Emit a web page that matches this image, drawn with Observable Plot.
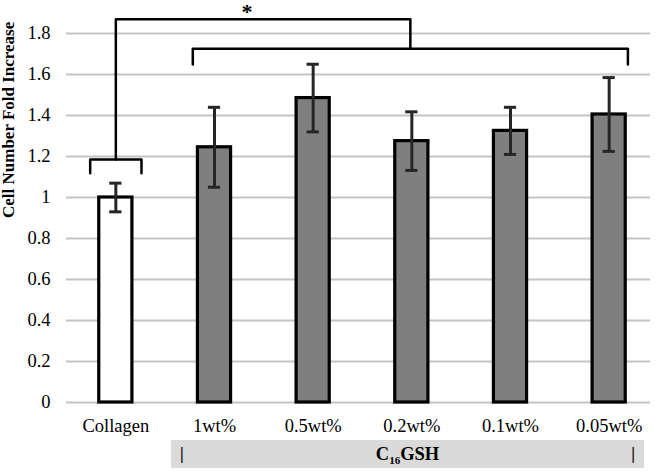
<!DOCTYPE html>
<html>
<head>
<meta charset="utf-8">
<script src="https://cdn.jsdelivr.net/npm/d3@7"></script>
<script src="https://cdn.jsdelivr.net/npm/@observablehq/plot@0.6"></script>
<style>
  body { margin: 0; background: #fff; font-family: "Liberation Serif", serif; }
  svg { display: block; }
  #group { position: relative; width: 660px; height: 34px; }
  #groupbox { position: absolute; left: 171px; top: 2px; width: 473px; height: 28px; background: #dadada;
    font-family: "Liberation Serif", serif; font-weight: bold; font-size: 18.5px; color: #000; }
  #groupbox .t { position: absolute; left: 0; right: 0; top: 3px; text-align: center; line-height: 22px; color: #000; }
  #groupbox .l { position: absolute; left: 9px; top: 3px; font-weight: bold; line-height: 22px; color: #000; font-size: 17px; }
  #groupbox .r { position: absolute; right: 9px; top: 3px; font-weight: bold; line-height: 22px; color: #000; font-size: 17px; }
</style>
</head>
<body>
<div id="chart"></div>
<script>
const categories = ["Collagen", "1wt%", "0.5wt%", "0.2wt%", "0.1wt%", "0.05wt%"];
const means = [1.0, 1.245, 1.485, 1.275, 1.325, 1.405];
const errors = [0.07, 0.195, 0.165, 0.143, 0.115, 0.18];
const barFills = ["#ffffff", "#7f7f7f", "#7f7f7f", "#7f7f7f", "#7f7f7f", "#7f7f7f"];
const yTicks = [0, 0.2, 0.4, 0.6, 0.8, 1.0, 1.2, 1.4, 1.6, 1.8];
const yLabel = "Cell Number Fold Increase";
const groupLabel = ["C", "16", "GSH"];

// significance brackets (x in category index units, y in data units)
const bracketCollagen = [[-0.26, 1.118], [-0.26, 1.185], [0.26, 1.185], [0.26, 1.118]];
const bracketGroup = [[0.78, 1.649], [0.78, 1.726], [5.19, 1.726], [5.19, 1.649]];
const bracketLink = [[0, 1.185], [0, 1.87], [2.985, 1.87], [2.985, 1.726]];
const star = [{x: 1.33, y: 1.945, text: "*"}];

const data = categories.map((c, i) => ({i, c, mean: means[i], err: errors[i], fill: barFills[i]}));
const hw = 0.168, cap = 0.062;

const plot = Plot.plot({
  width: 660,
  height: 438,
  marginLeft: 66,
  marginRight: 2,
  marginTop: 33,
  marginBottom: 36,
  style: {fontFamily: "Liberation Serif, serif", fontSize: "18.5px", color: "#000", background: "#fff"},
  x: {domain: [-0.5, 5.5]},
  y: {domain: [0, 1.8]},
  marks: [
    Plot.ruleY(yTicks, {x1: () => -0.5, x2: () => 5.42, stroke: "#c4c4c4", strokeWidth: 2}),
    Plot.axisY(yTicks, {tickSize: 0, tickPadding: 16, label: null, fontSize: 18.5, tickFormat: d => String(d)}),
    Plot.axisX(d3.range(categories.length), {tickSize: 0, tickPadding: 16, label: null, tickFormat: i => categories[i], fontSize: 18.5}),
    Plot.rect(data, {x1: d => d.i - hw, x2: d => d.i + hw, y1: () => 0, y2: "mean", fill: "fill", stroke: "#000", strokeWidth: 3.2}),
    Plot.ruleX(data, {x: "i", y1: d => d.mean - d.err, y2: d => d.mean + d.err, stroke: "#262626", strokeWidth: 3}),
    Plot.ruleY(data, {y: d => d.mean + d.err, x1: d => d.i - cap, x2: d => d.i + cap, stroke: "#262626", strokeWidth: 3}),
    Plot.ruleY(data, {y: d => d.mean - d.err, x1: d => d.i - cap, x2: d => d.i + cap, stroke: "#262626", strokeWidth: 3}),
    Plot.line(bracketCollagen, {x: d => d[0], y: d => d[1], stroke: "#000", strokeWidth: 2.5, strokeLinejoin: "round"}),
    Plot.line(bracketGroup, {x: d => d[0], y: d => d[1], stroke: "#000", strokeWidth: 2.5, strokeLinejoin: "round"}),
    Plot.line(bracketLink, {x: d => d[0], y: d => d[1], stroke: "#000", strokeWidth: 2.5}),
    Plot.text(star, {x: "x", y: "y", text: "text", fontSize: 22, fontWeight: "bold", lineAnchor: "top"}),
    Plot.text([yLabel], {frameAnchor: "left", dx: -58, rotate: -90, text: d => d, fontWeight: "bold", fontSize: 17})
  ]
});
document.getElementById("chart").appendChild(plot);

const g = document.createElement("div");
g.id = "group";
g.innerHTML = '<div id="groupbox"><span class="l">|</span><span class="t">' + groupLabel[0] +
  '<sub style="font-size:11px;vertical-align:-4px">' + groupLabel[1] + '</sub>' + groupLabel[2] +
  '</span><span class="r">|</span></div>';
document.body.appendChild(g);
</script>
</body>
</html>
